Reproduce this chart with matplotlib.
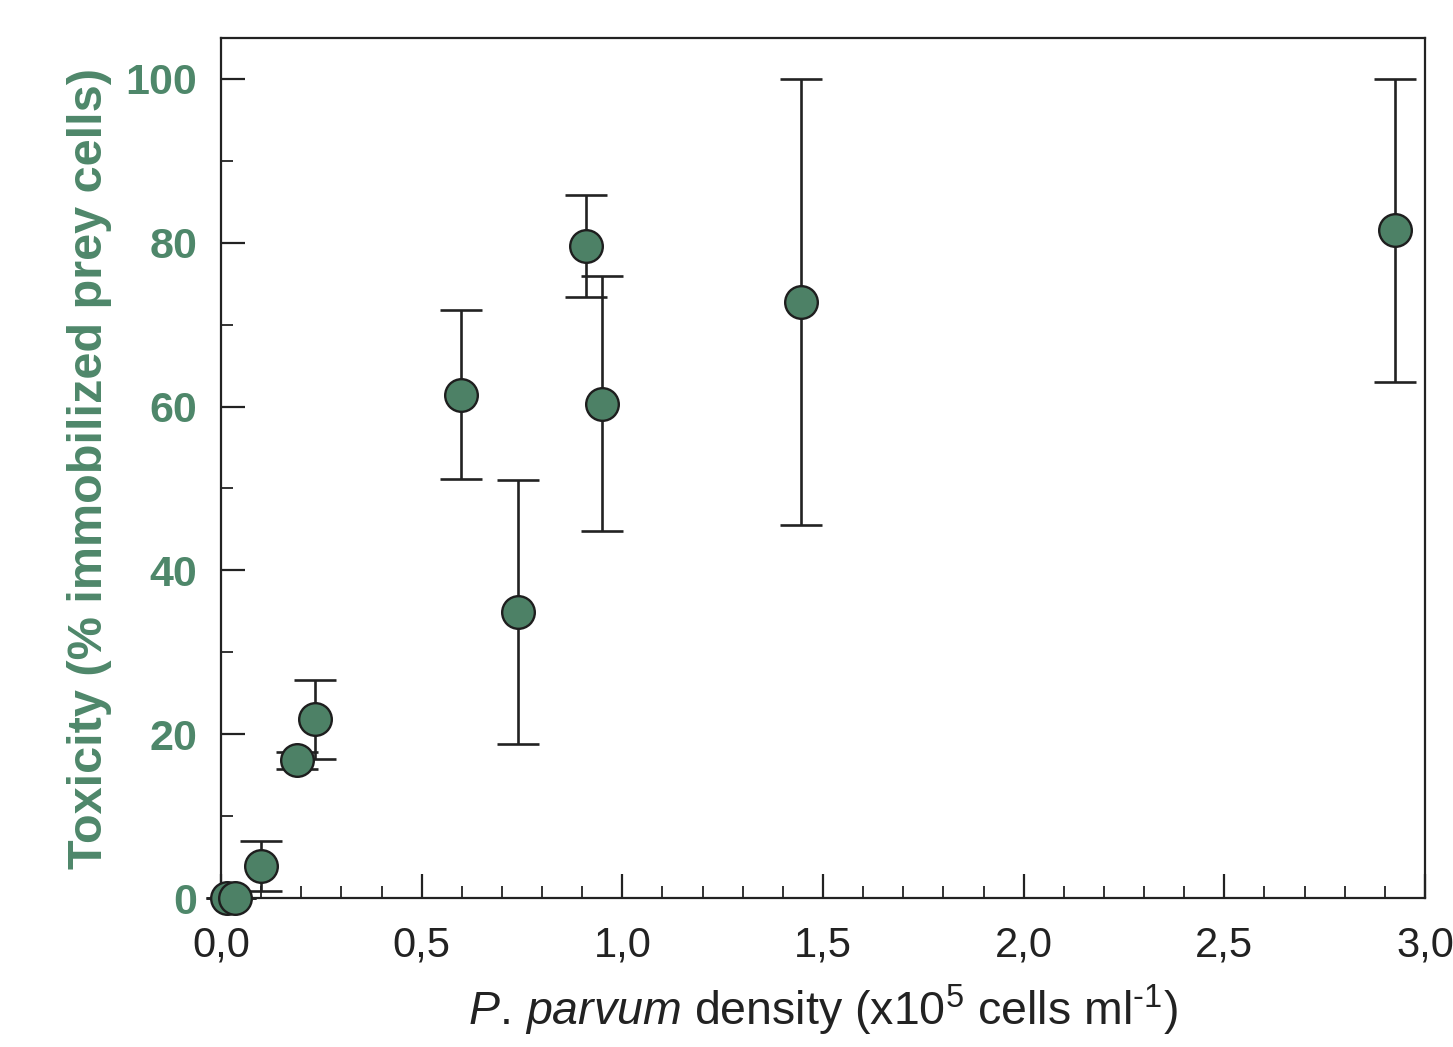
import matplotlib
matplotlib.use("Agg")
import matplotlib.pyplot as plt
from matplotlib.ticker import MultipleLocator, FuncFormatter

plt.rcParams['font.family'] = ['Liberation Sans', 'DejaVu Sans']
plt.rcParams['mathtext.fontset'] = 'custom'
plt.rcParams['mathtext.rm'] = 'Liberation Sans'
plt.rcParams['mathtext.it'] = 'Liberation Sans:italic'
plt.rcParams['mathtext.bf'] = 'Liberation Sans:bold'

# Data
density = [0.014, 0.035, 0.10, 0.19, 0.233, 0.598, 0.74, 0.909, 0.949, 1.445, 2.926]
toxicity = [0.0, 0.0, 3.95, 16.8, 21.8, 61.45, 34.9, 79.6, 60.35, 72.75, 81.5]
toxicity_err = [0.0, 0.0, 3.05, 1.0, 4.8, 10.35, 16.1, 6.2, 15.55, 27.25, 18.45]

x_ticks = [0.0, 0.5, 1.0, 1.5, 2.0, 2.5, 3.0]
y_ticks = [0, 20, 40, 60, 80, 100]

green_fill = '#4d8166'
green_text = '#4e876a'

fig = plt.figure(figsize=(14.53, 10.47), dpi=100)
ax = fig.add_axes([0.1521, 0.1423, 0.9807 - 0.1521, 0.9637 - 0.1423])

ax.errorbar(density, toxicity, yerr=toxicity_err, fmt='none', ecolor='#222222',
            elinewidth=1.9, capsize=15, capthick=1.9, zorder=2, clip_on=False)
ax.plot(density, toxicity, 'o', ms=23.5, mfc=green_fill, mec='#1e1e1e', mew=1.7,
        zorder=3, clip_on=False, linestyle='none')

ax.set_xlim(0, 3.0)
ax.set_ylim(0, 105)

ax.set_xticks(x_ticks)
ax.set_yticks(y_ticks)
ax.xaxis.set_minor_locator(MultipleLocator(0.1))
ax.yaxis.set_minor_locator(MultipleLocator(10))
ax.xaxis.set_major_formatter(FuncFormatter(lambda v, p: f"{v:.1f}".replace('.', ',')))

for s in ax.spines.values():
    s.set_linewidth(1.6)
    s.set_color('#222222')

ax.tick_params(axis='both', which='major', direction='in', length=17, width=1.6,
               color='#222222')
ax.tick_params(axis='both', which='minor', direction='in', length=8.5, width=1.3,
               color='#222222')
ax.tick_params(axis='x', which='major', labelsize=30, pad=20, labelcolor='#222222')
ax.tick_params(axis='y', which='major', labelsize=31, pad=17, labelcolor=green_text)
for lbl in ax.get_yticklabels():
    lbl.set_fontweight('bold')

ax.set_xlabel(r"$\mathit{P.\,parvum}$ density (x10$^{5}$ cells ml$^{\text{-}1}$)",
              fontsize=33.5, color='#222222', labelpad=12)
ax.set_ylabel("Toxicity (% immobilized prey cells)", fontsize=35, fontweight='bold',
              color=green_text, labelpad=10)

fig.savefig("out.png", dpi=100)
